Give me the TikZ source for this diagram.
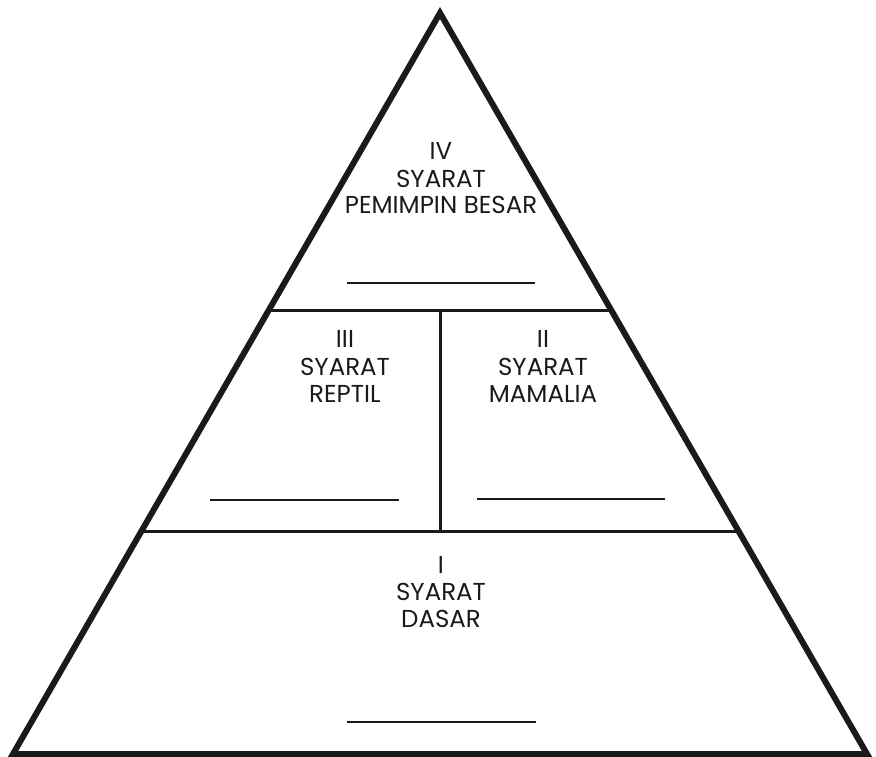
\documentclass[tikz,border=0pt]{standalone}
\usepackage{fontspec}
\setmainfont{Poppins}
\definecolor{ink}{HTML}{1A1A1A}
\begin{document}
\begin{tikzpicture}[x=1pt,y=-1pt,
  outer/.style={draw=ink,line width=6pt,line join=miter},
  inner/.style={draw=ink,line width=3pt},
  blank/.style={draw=ink,line width=2.6pt},
  lbl/.style={anchor=base,inner sep=0pt,text=ink,font=\fontsize{24.5}{27}\selectfont}]
\useasboundingbox (0,0) rectangle (876,757);
\coordinate (A) at (440,13);
\coordinate (L) at (13,754);
\coordinate (R) at (867,754);
\coordinate (h1l) at (269,310);
\coordinate (h1r) at (611,310);
\coordinate (vt) at (440,310);
\coordinate (vb) at (440,531);
\coordinate (h2l) at (141.5,531);
\coordinate (h2r) at (738.5,531);
\draw[outer] (A) -- (L) -- (R) -- cycle;
\draw[inner] (h1l) -- (h1r);
\draw[inner] (h2l) -- (h2r);
\draw[inner] (vt) -- (vb);
\coordinate (b4l) at (347,283); \coordinate (b4r) at (535,283);
\coordinate (b3l) at (210,500); \coordinate (b3r) at (399,500);
\coordinate (b2l) at (477,499); \coordinate (b2r) at (665,499);
\coordinate (b1l) at (347,722); \coordinate (b1r) at (536,722);
\draw[blank] (b4l) -- (b4r);
\draw[blank] (b3l) -- (b3r);
\draw[blank] (b2l) -- (b2r);
\draw[blank] (b1l) -- (b1r);
\node[lbl] (t4a) at (441,160) {IV};
\node[lbl] (t4b) at (441,187) {SYARAT};
\node[lbl] (t4c) at (441,213.5) {PEMIMPIN BESAR};
\node[lbl] (t3a) at (345,347) {III};
\node[lbl] (t3b) at (345,375) {SYARAT};
\node[lbl] (t3c) at (345,402) {REPTIL};
\node[lbl] (t2a) at (543,347) {II};
\node[lbl] (t2b) at (543,375) {SYARAT};
\node[lbl] (t2c) at (543,402) {MAMALIA};
\node[lbl] (t1a) at (441,573) {I};
\node[lbl] (t1b) at (441,600) {SYARAT};
\node[lbl] (t1c) at (441,627) {DASAR};
\end{tikzpicture}
\end{document}
